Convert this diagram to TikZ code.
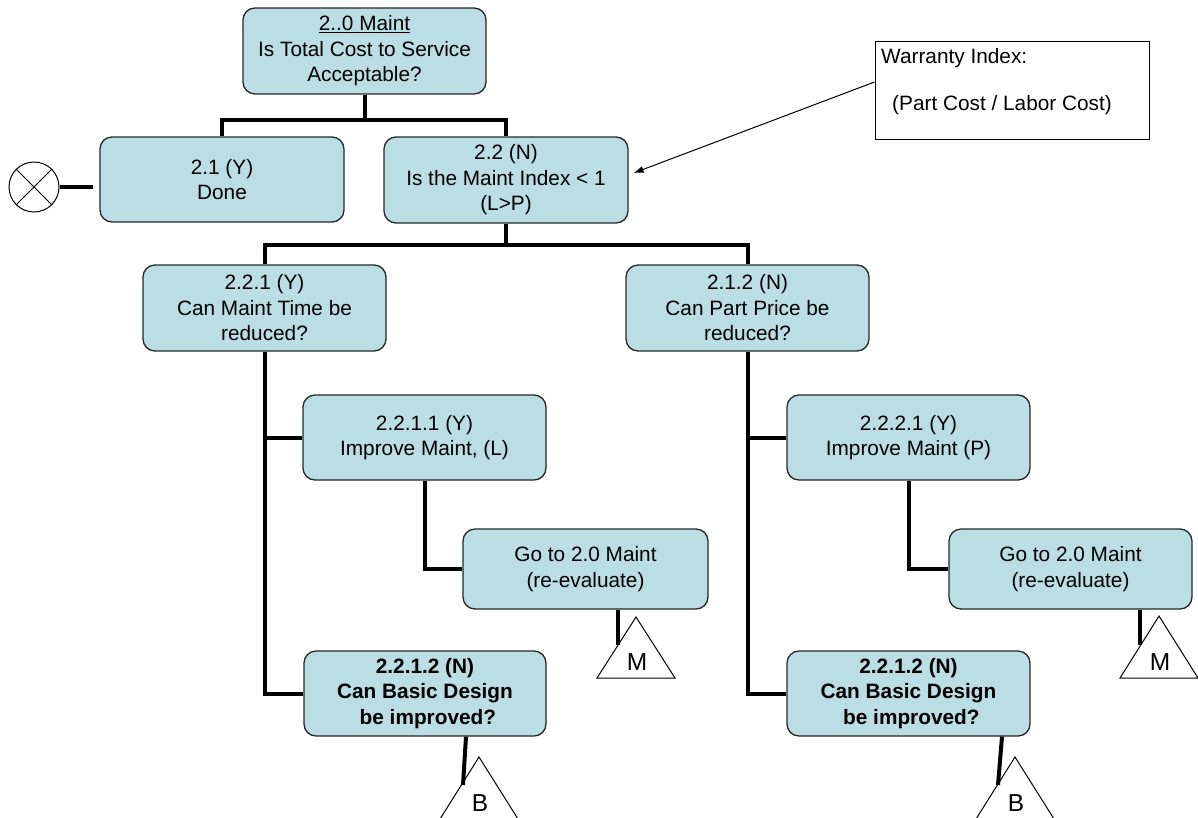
\documentclass[tikz,border=0pt]{standalone}
\usepackage{fontspec}
\setmainfont{Liberation Sans}
\usetikzlibrary{arrows.meta}
\definecolor{boxfill}{RGB}{187,222,228}
\begin{document}
\begin{tikzpicture}[x=1pt,y=-1pt,
  box/.style={draw=black!85, line width=1.3pt, fill=boxfill, rounded corners=12pt,
    align=center, inner sep=0pt, minimum width=243pt, minimum height=86pt,
    font=\fontsize{20.8}{25.5}\selectfont},
  bbox/.style={box, font=\fontsize{20.8}{25.5}\selectfont\bfseries},
  conn/.style={line width=4pt, draw=black},
  thinline/.style={line width=1pt, draw=black},
  lbl/.style={font=\fontsize{20.8}{25}\selectfont, inner sep=0pt},
  tri/.style={font=\fontsize{24.5}{25}\selectfont, inner sep=0pt},
]
\useasboundingbox (0,0) rectangle (1198,817);
\clip (0,0) rectangle (1198,817);

% boxes
\node[box] (top) at (364.5,51) {\underline{2..0 Maint}\\Is Total Cost to Service\\Acceptable?};
\node[box, minimum width=244pt, minimum height=85pt] (done) at (222,179.5) {2.1 (Y)\\Done};
\node[box, minimum width=244pt] (n22) at (506,180) {2.2 (N)\\Is the Maint Index < 1\\(L>P)};
\node[box] (n221) at (264.5,308) {2.2.1 (Y)\\Can Maint Time be\\reduced?};
\node[box] (n212) at (747.5,308) {2.1.2 (N)\\Can Part Price be\\reduced?};
\node[box, minimum height=85pt] (n2211) at (424.5,437.5) {2.2.1.1 (Y)\\Improve Maint, (L)};
\node[box, minimum height=85pt] (n2221) at (908.5,437.5) {2.2.2.1 (Y)\\Improve Maint (P)};
\node[box, minimum width=245pt, minimum height=80pt] (go1) at (585.5,569) {Go to 2.0 Maint\\(re-evaluate)};
\node[box, minimum width=243pt, minimum height=80pt] (go2) at (1070.5,569) {Go to 2.0 Maint\\(re-evaluate)};
\node[bbox, minimum width=242pt, minimum height=85pt] (n2212) at (425,693.5) {2.2.1.2 (N)\\Can Basic Design\\\ be improved?};
\node[bbox, minimum height=85pt] (n2212b) at (908.5,693.5) {2.2.1.2 (N)\\Can Basic Design\\\ be improved?};

% warranty note
\node[thinline, draw, minimum width=274pt, minimum height=98pt, inner sep=0pt] (warr) at (1012,90) {};
\node[lbl, anchor=base west] (wt1) at (881,63) {Warranty Index:};
\node[lbl, anchor=base west] (wt2) at (892,110) {(Part Cost / Labor Cost)};
\draw[thinline, -{Latex[length=10pt,width=7pt]}] ([yshift=8pt]warr.west) -- ([xshift=5pt,yshift=7pt]n22.east);

% tree connectors
\coordinate (j1) at (364.5,120);
\draw[conn] (top.south) -- (j1);
\draw[conn] (done.north) |- (j1) -| (n22.north);
\coordinate (j2) at (506,245);
\draw[conn] (n22.south) -- (j2);
\draw[conn] (n221.north) |- (j2) -| (n212.north);
\draw[conn] (n221.south) |- (n2212.west);
\draw[conn] (n221.south |- n2211.west) -- (n2211.west);
\draw[conn] (n2211.south) |- (go1.west);
\draw[conn] (n212.south) |- (n2212b.west);
\draw[conn] (n212.south |- n2221.west) -- (n2221.west);
\draw[conn] (n2221.south) |- (go2.west);

% terminator
\node[thinline, draw, circle, minimum size=50pt, inner sep=0pt] (term) at (34,187) {};
\draw[thinline] (term.north west) -- (term.south east);
\draw[thinline] (term.north east) -- (term.south west);
\coordinate (dtip) at (93,187);
\draw[conn] (term.east) -- (dtip);

% M triangles
\draw[thinline] (597,678) -- (636,617) -- (675,678) -- cycle;
\node[tri] (m1) at (637,662) {M};
\coordinate (m1t) at (618,645);
\draw[conn] (go1.south -| m1t) -- (m1t);
\draw[thinline] (1120,678) -- (1159,616) -- (1198,678) -- cycle;
\node[tri] (m2) at (1160,662) {M};
\coordinate (m2t) at (1140,645);
\draw[conn] (go2.south -| m2t) -- (m2t);

% B triangles
\draw[thinline] (440,819) -- (479,757) -- (518,819);
\node[tri] (b1) at (480,803) {B};
\coordinate (b1t) at (463,785);
\draw[conn] ([xshift=41pt]n2212.south) -- (b1t);
\draw[thinline] (976,819) -- (1015,757) -- (1054,819);
\node[tri] (b2) at (1016,803) {B};
\coordinate (b2t) at (998,785);
\draw[conn] ([xshift=93.5pt]n2212b.south) -- (b2t);
\end{tikzpicture}
\end{document}
